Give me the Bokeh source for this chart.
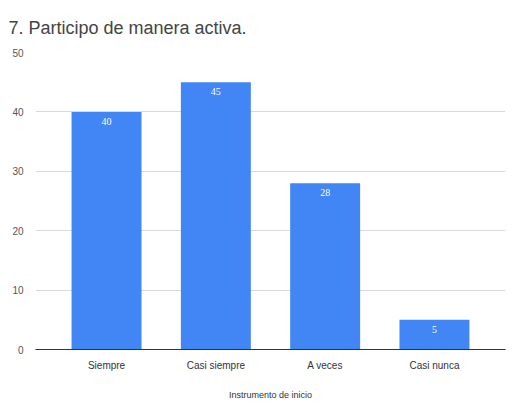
from bokeh.plotting import figure
from bokeh.models import ColumnDataSource, FactorRange, LabelSet, FixedTicker
from bokeh.embed import file_html
from bokeh.resources import INLINE

categories = ["Siempre", "Casi siempre", "A veces", "Casi nunca"]
values = [40, 45, 28, 5]
y_ticks = [0, 10, 20, 30, 40, 50]

source = ColumnDataSource(dict(cat=categories, val=values, lab=[str(v) for v in values]))

p = figure(width=512, height=409, output_backend="svg", toolbar_location=None,
           x_range=FactorRange(*categories, range_padding=0.075), y_range=(0, 50),
           title="7. Participo de manera activa.")
p.min_border_left = 35
p.min_border_right = 7
p.min_border_top = 8
p.min_border_bottom = 60
p.outline_line_color = None

p.title.text_font = "Liberation Sans"
p.title.text_font_size = "18px"
p.title.text_font_style = "normal"
p.title.text_color = "#444444"
p.title.standoff = 30
p.title.offset = -27

p.vbar(x="cat", top="val", width=0.64, source=source, color="#4285f4", line_color=None)

labels = LabelSet(x="cat", y="val", text="lab", source=source, text_color="white",
                  text_font_size="10px", text_align="center", text_baseline="top",
                  y_offset=-6, text_font="Liberation Sans")
p.add_layout(labels)

p.yaxis.ticker = FixedTicker(ticks=y_ticks)
p.yaxis.axis_line_color = None
p.yaxis.major_tick_line_color = None
p.yaxis.minor_tick_line_color = None
p.yaxis.major_label_text_font = "Liberation Sans"
p.yaxis.major_label_text_font_size = "10px"
p.yaxis.major_label_text_color = "#555555"
p.yaxis.major_label_standoff = 6

p.xaxis.axis_line_color = "#333333"
p.xaxis.axis_line_width = 1
p.xaxis.major_tick_line_color = None
p.xaxis.minor_tick_line_color = None
p.xaxis.major_label_text_font = "Liberation Sans"
p.xaxis.major_label_text_font_size = "10px"
p.xaxis.major_label_text_color = "#333333"
p.xaxis.major_label_standoff = 4
p.xaxis.axis_label = "Instrumento de inicio"
p.xaxis.axis_label_text_font = "Liberation Sans"
p.xaxis.axis_label_text_font_size = "9px"
p.xaxis.axis_label_text_font_style = "normal"
p.xaxis.axis_label_text_color = "#333333"
p.xaxis.axis_label_standoff = 16

p.xgrid.grid_line_color = None
p.ygrid.grid_line_color = "#d9d9d9"

open("out.html", "w").write(file_html(p, INLINE))
